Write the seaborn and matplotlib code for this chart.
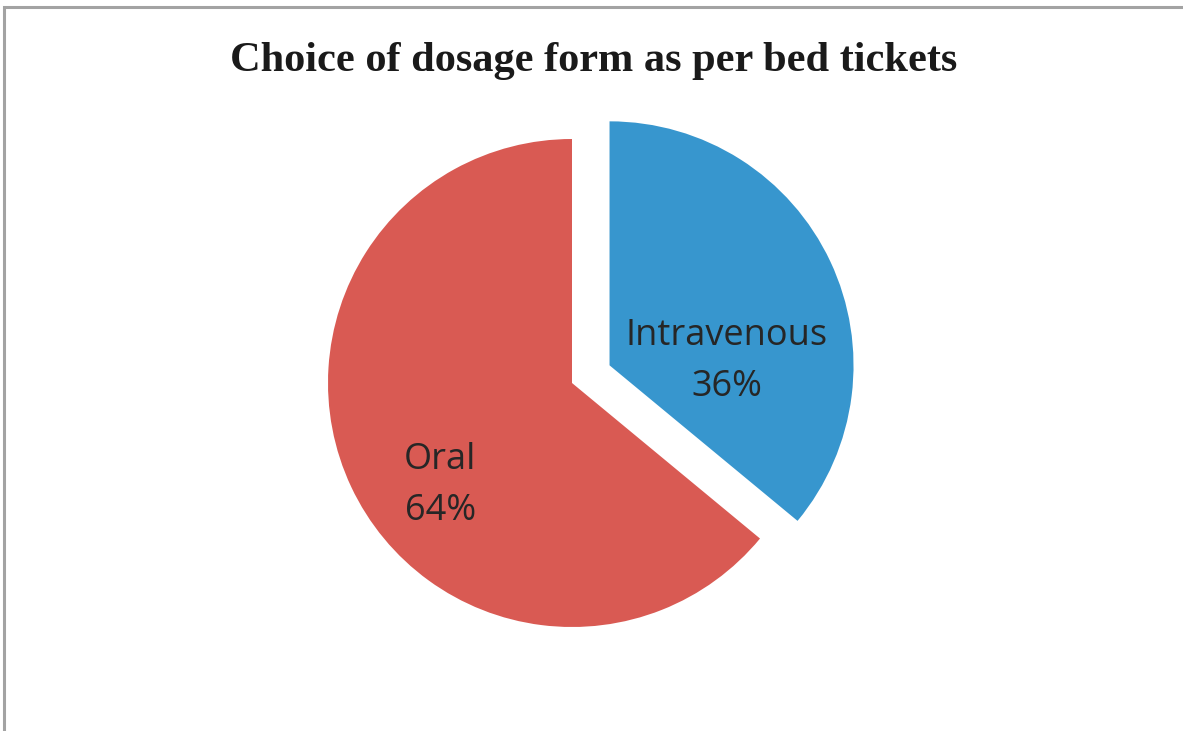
import matplotlib
matplotlib.use("Agg")
import matplotlib.pyplot as plt
import seaborn as sns
import numpy as np
from matplotlib.patches import Rectangle

sns.set_theme(style="white")

categories = ["Intravenous", "Oral"]
shares = [36, 64]
colors = ["#3796CE", "#D95A53"]
explode = [0.17, 0.0]

title = "Choice of dosage form as per bed tickets"

W, H, DPI = 1183, 731, 100
fig = plt.figure(figsize=(W / DPI, H / DPI), dpi=DPI)
fig.patch.set_facecolor("white")

ax = fig.add_axes([0, 0, 1, 1])
wedges, _ = ax.pie(shares, colors=colors, explode=explode, startangle=90,
                   counterclock=False, radius=1.0,
                   wedgeprops=dict(linewidth=0, edgecolor="none"))

# Axes scaled so one data unit equals the pie radius in pixels
R_PX = 244.0
cx, cy = 572.0, 383.0
ax.set_xlim(-cx / R_PX, (W - cx) / R_PX)
ax.set_ylim(-(H - cy) / R_PX, cy / R_PX)
ax.set_aspect("equal")
ax.axis("off")

# Data labels, offset inside each wedge
label_font = dict(family=["Open Sans", "DejaVu Sans"], size=26, color="#262626",
                  ha="center", va="center", linespacing=1.55)
label_offsets = {"Intravenous": (0.48, 0.014), "Oral": (-0.54, -0.42)}
for w, cat, val, ex in zip(wedges, categories, shares, explode):
    ox, oy = label_offsets[cat]
    theta = np.deg2rad((w.theta1 + w.theta2) / 2)
    ax.text(ex * np.cos(theta) + ox, ex * np.sin(theta) + oy,
            f"{cat}\n{val}%", **label_font)

fig.text(594 / W, 1 - 61 / H, title, ha="center", va="center",
         family=["Liberation Serif", "DejaVu Serif"], weight="bold", size=30.5,
         color="#1a1a1a")

# Chart border (right and bottom edges fall outside the canvas)
fig.add_artist(Rectangle((4 / W, -0.1), 1.2, 1.1 - 7 / H, transform=fig.transFigure,
                         fill=False, edgecolor="#A3A3A3", linewidth=2.2))

fig.savefig("out.png", dpi=DPI)
